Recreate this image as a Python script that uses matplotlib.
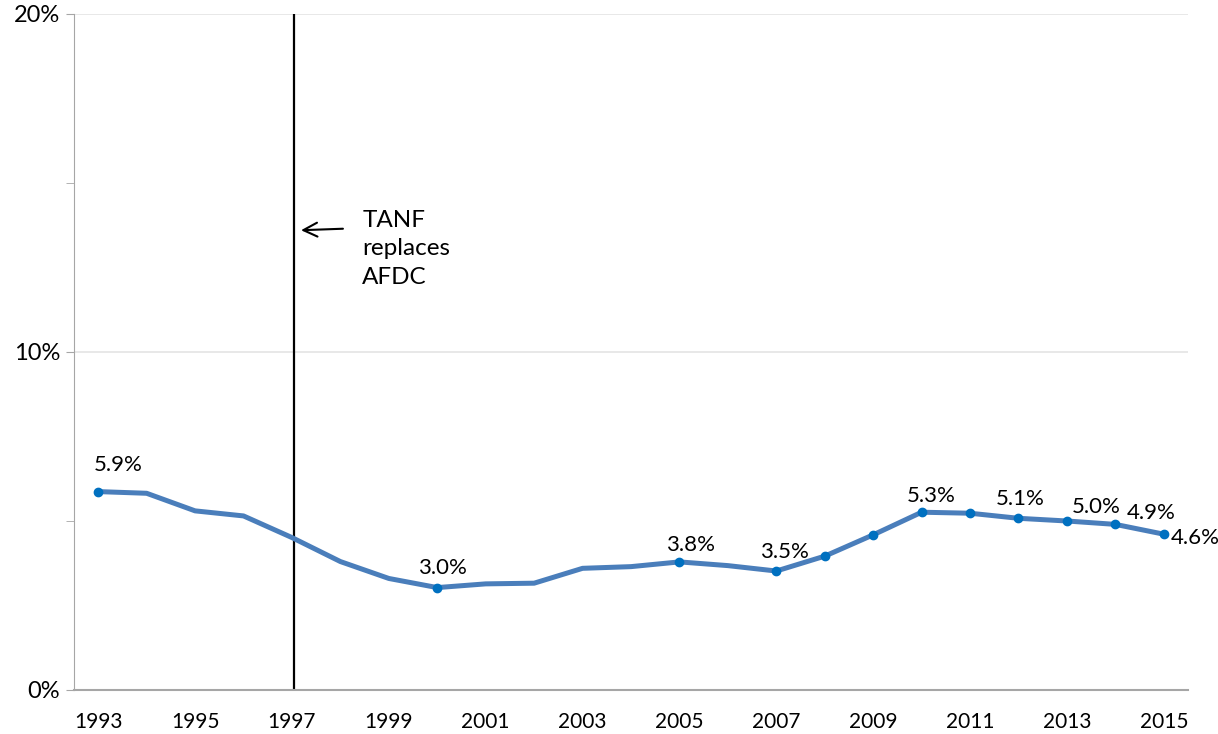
import matplotlib
matplotlib.use('Agg')
import matplotlib.pyplot as plt
from matplotlib.ticker import MultipleLocator, FuncFormatter

plt.rcParams['font.family'] = ['Lato', 'DejaVu Sans']

# data
years = list(range(1993, 2016))
rate = [5.87, 5.82, 5.30, 5.15, 4.51, 3.80, 3.30, 3.03, 3.14, 3.16, 3.60, 3.65,
        3.79, 3.68, 3.52, 3.96, 4.59, 5.26, 5.23, 5.08, 5.00, 4.90, 4.61]
marker_years = [1993, 2000, 2005, 2007, 2008, 2009, 2010, 2011, 2012, 2013, 2014, 2015]
label_years = [1993, 2000, 2005, 2007, 2010, 2012, 2013, 2014, 2015]
tanf_year = 1997.05
note = 'TANF\nreplaces\nAFDC'

# label offsets in pixels (dx, dy) from the point to the text centre
offs = {1993: (20, 27), 2000: (5, 20), 2005: (11, 17), 2007: (8, 19),
        2010: (10, 16), 2012: (2, 19), 2013: (29, 14), 2014: (36, 11),
        2015: (31, -4)}

fig = plt.figure(figsize=(12.18, 7.34), dpi=100)
ax = fig.add_axes([74/1218, 44/734, 1114/1218, 676/734])

ax.plot(years, rate, color='#4a7ebb', lw=3.6, solid_joinstyle='round', zorder=3)
my = [rate[years.index(y)] for y in marker_years]
ax.plot(marker_years, my, ls='none', marker='o', ms=6, color='#0070c0', zorder=4)

for y in label_years:
    v = rate[years.index(y)]
    dx, dy = offs[y]
    ax.annotate('%.1f%%' % v, (y, v), xytext=(dx, dy), textcoords='offset pixels',
                ha='center', va='center', fontsize=16, color='k', zorder=5)

ax.axvline(tanf_year, color='k', lw=1.6, zorder=2)
ax.annotate('', xy=(tanf_year + 0.08, 13.6), xytext=(tanf_year + 1.06, 13.65),
            arrowprops=dict(arrowstyle='->', color='k', lw=1.5, mutation_scale=25))
ax.text(tanf_year + 1.4, 13.05, note, fontsize=17.5, va='center', ha='left',
        linespacing=1.45)

ax.set_xlim(1992.5, 2015.5)
ax.set_ylim(0, 20)
ax.set_xticks(range(1993, 2016, 2))
ax.yaxis.set_major_locator(MultipleLocator(10))
ax.yaxis.set_minor_locator(MultipleLocator(5))
ax.yaxis.set_major_formatter(FuncFormatter(lambda v, p: '%d%%' % v))
ax.grid(axis='y', which='major', color='#e4e4e4', lw=1.2, zorder=0)

for s in ['top', 'right']:
    ax.spines[s].set_visible(False)
ax.spines['left'].set_color('#a6a6a6')
ax.spines['bottom'].set_color('#a6a6a6')
ax.spines['bottom'].set_linewidth(1.5)
ax.tick_params(axis='y', which='both', direction='out', length=6, color='#a6a6a6',
               labelsize=17, pad=4)
ax.tick_params(axis='x', length=0, labelsize=15, pad=16)

plt.savefig('out.png', dpi=100)
